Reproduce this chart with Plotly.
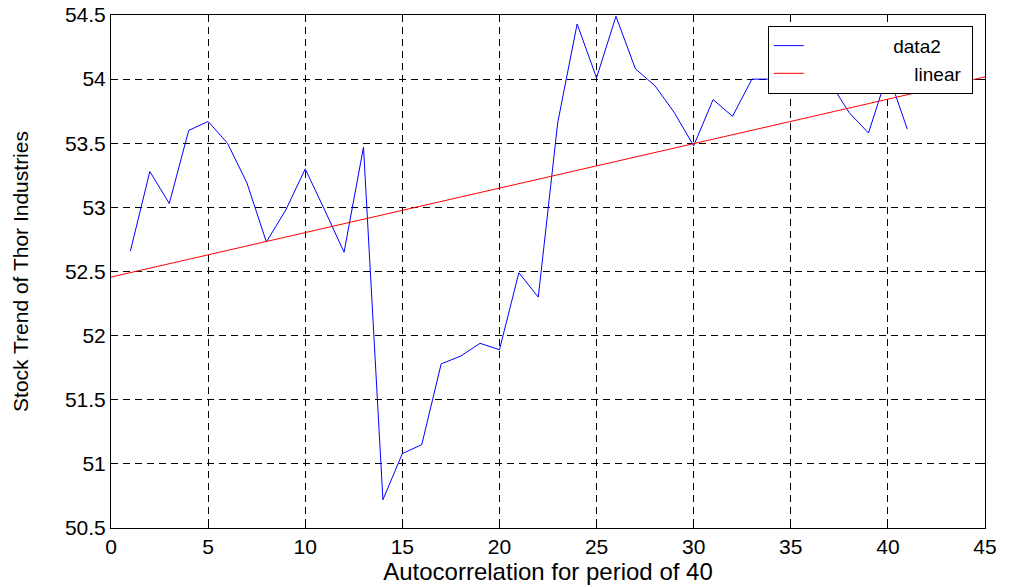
import numpy as np
import plotly.graph_objects as go

# Sèrie llegida del gràfic (període 1..41)
periods = list(range(1, 42))
stock = [52.66, 53.28, 53.03, 53.60, 53.67, 53.50, 53.19, 52.73, 52.98, 53.30,
         52.98, 52.65, 53.47, 50.72, 51.08, 51.15, 51.78, 51.84, 51.94, 51.89,
         52.49, 52.30, 53.66, 54.43, 54.01, 54.49, 54.08, 53.95, 53.74, 53.48,
         53.84, 53.71, 54.00, 54.00, 54.00, 54.00, 53.98, 53.74, 53.58, 54.05,
         53.61]

x_ticks = [0, 5, 10, 15, 20, 25, 30, 35, 40, 45]
y_ticks = [50.5, 51, 51.5, 52, 52.5, 53, 53.5, 54, 54.5]

# Ajust lineal sobre tot el rang de l'eix
slope, intercept = np.polyfit(periods, stock, 1)
fit_x = np.array([0, 45])
fit_y = intercept + slope * fit_x

nb = '\u00a0'  # espais per alinear el text de la llegenda a la dreta

fig = go.Figure()
fig.add_trace(go.Scatter(x=periods, y=stock, mode='lines', name=nb * 16 + 'data2' + nb,
                         line=dict(color='rgb(0,0,255)', width=1)))
fig.add_trace(go.Scatter(x=fit_x, y=fit_y, mode='lines', name=nb * 20 + 'linear' + nb,
                         line=dict(color='rgb(255,0,0)', width=1)))

font_family = 'Liberation Sans, Arial'

axis_style = dict(
    showline=True, linecolor='black', linewidth=1, mirror='ticks',
    ticks='inside', ticklen=5, tickcolor='black',
    showgrid=True, gridcolor='black', gridwidth=1, griddash='7px,5px',
    zeroline=False, automargin=False,
    tickfont=dict(family=font_family, size=21, color='black'),
)

fig.update_xaxes(range=[0, 45], tickvals=x_ticks, **axis_style,
                 title=dict(text='Autocorrelation for period of 40', standoff=0,
                            font=dict(family=font_family, size=24, color='black')))
fig.update_yaxes(range=[50.5, 54.5], tickvals=y_ticks, ticktext=[f'{v:g}' for v in y_ticks],
                 **axis_style,
                 title=dict(text='Stock Trend of Thor Industries', standoff=30,
                            font=dict(family=font_family, size=21, color='black')))

fig.update_layout(
    width=1009, height=587,
    margin=dict(l=111, r=24, t=15, b=59),
    paper_bgcolor='white', plot_bgcolor='white',
    showlegend=True,
    legend=dict(x=0.986, y=0.979, xanchor='right', yanchor='top',
                bgcolor='white', bordercolor='black', borderwidth=1,
                font=dict(family=font_family, size=19, color='black'),
                tracegroupgap=0),
)

# sense el marge de 8px del body, perquè la figura ocupi tota la finestra
fig.write_html("out.html", config={'displayModeBar': False},
               post_script="document.body.style.margin='0';")
